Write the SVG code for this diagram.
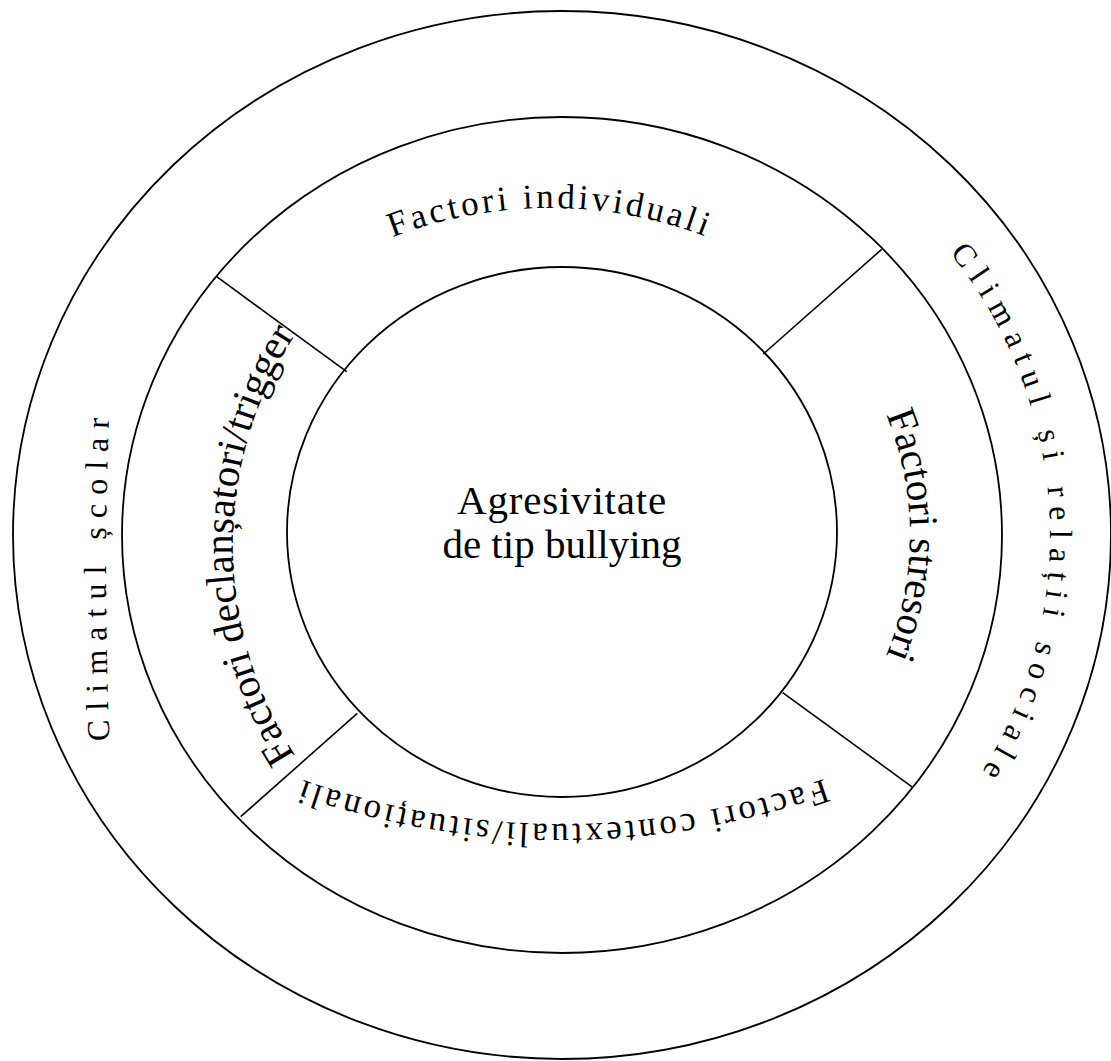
<svg xmlns="http://www.w3.org/2000/svg" width="1111" height="1061" viewBox="0 0 1111 1061">
  <defs>
    <style>
      .ring { fill: none; stroke: #000; stroke-width: 1.8; }
      .divider { stroke: #000; stroke-width: 1.6; }
      .lbl { font-family: "Liberation Serif", "Times New Roman", serif; fill: #000; }
      .center { font-size: 41px; text-anchor: middle; }
      .side { font-size: 41px; }
      .arch { font-size: 35px; letter-spacing: 3.3px; }
      .outer { font-size: 32px; letter-spacing: 9px; }
    </style>
    <!-- baselines for the ring labels, all running clockwise -->
    <path id="p-top" d="M 220.9 371.5 A 380 327 0 0 1 879.1 371.5"/>
    <path id="p-right" d="M 736 248.4 A 348 331 0 0 1 736 821.6"/>
    <path id="p-bottom" d="M 892 750.7 A 780 780 0 0 1 232 750.7"/>
    <path id="p-left" d="M 376 845 A 386 386 0 0 1 376 245"/>
    <path id="p-outer-left" d="M 113.8 825 A 4000 4000 0 0 1 113.8 325"/>
    <path id="p-outer-right" d="M 779.7 118.9 A 488 465 0 0 1 831.3 922.8"/>
  </defs>

  <rect width="1111" height="1061" fill="#fff"/>

  <g id="outer-ring">
    <ellipse class="ring" cx="562" cy="535" rx="549" ry="524"/>
    <text class="lbl outer"><textPath href="#p-outer-left" startOffset="50%" text-anchor="middle">Climatul școlar</textPath></text>
    <text class="lbl outer"><textPath href="#p-outer-right" startOffset="50.6%" text-anchor="middle">Climatul și relații sociale</textPath></text>
  </g>

  <g id="middle-ring">
    <ellipse class="ring" cx="562" cy="535" rx="440" ry="418"/>
  </g>

  <g id="connectors">
    <line class="divider" x1="216.7" y1="276.7" x2="346.7" y2="371.7"/>
    <line class="divider" x1="881.7" y1="249.3" x2="763.3" y2="354"/>
    <line class="divider" x1="240.7" y1="816.7" x2="357.3" y2="713.3"/>
    <line class="divider" x1="912.7" y1="787.3" x2="782.7" y2="692.7"/>
  </g>

  <g id="factori-individuali">
    <text class="lbl arch"><textPath href="#p-top" startOffset="50%" text-anchor="middle">Factori individuali</textPath></text>
  </g>

  <g id="factori-stresori">
    <text class="lbl side"><textPath href="#p-right" startOffset="50%" text-anchor="middle">Factori stresori</textPath></text>
  </g>

  <g id="factori-contextuali">
    <text class="lbl arch"><textPath href="#p-bottom" startOffset="50%" text-anchor="middle">Factori contextuali/situaționali</textPath></text>
  </g>

  <g id="factori-declansatori">
    <text class="lbl side"><textPath href="#p-left" startOffset="50%" text-anchor="middle">Factori declanșatori/trigger</textPath></text>
  </g>

  <g id="agresivitate">
    <ellipse class="ring" cx="562" cy="532" rx="275" ry="265"/>
    <text class="lbl center" x="562" y="514" letter-spacing="0.8">Agresivitate</text>
    <text class="lbl center" x="562" y="558">de tip bullying</text>
  </g>
</svg>
